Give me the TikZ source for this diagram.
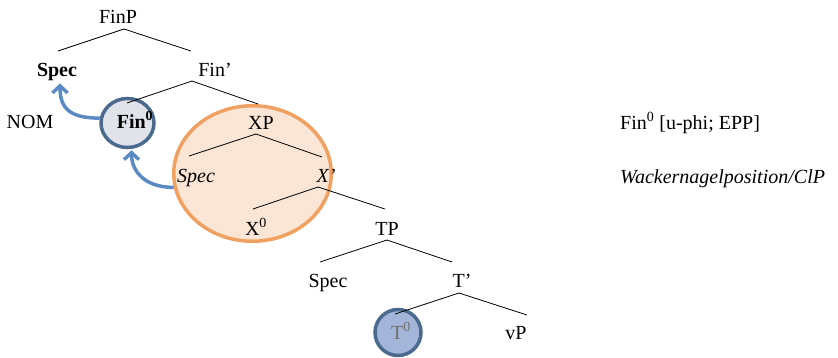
\documentclass[tikz,border=0pt]{standalone}
\usepackage{fontspec}
\setmainfont{Liberation Serif}
\usetikzlibrary{arrows.meta,shapes.geometric}
\definecolor{moveblue}{HTML}{5B8AC4}
\definecolor{finfill}{HTML}{E1E3EA}
\definecolor{headrim}{HTML}{4B6A8E}
\definecolor{clfill}{HTML}{FBE5D5}
\definecolor{clrim}{HTML}{F0A060}
\definecolor{tfill}{HTML}{A3B5D9}
\definecolor{tgray}{HTML}{707070}

\begin{document}
\begin{tikzpicture}[
        x=1pt, y=-1pt,
        lbl/.style={anchor=base, inner sep=0pt, font=\fontsize{20}{24}\selectfont},
        branch/.style={draw=black, line width=0.8pt},
        headring/.style={draw=headrim, line width=3.5pt, inner sep=0pt},
        movearrow/.style={-{Straight Barb[length=7pt, width=15pt]}, line width=3.5pt, draw=moveblue}
      ]
        \useasboundingbox (0,0) rectangle (838,357);

        % highlighted heads and the clitic domain
        \node[headring, ellipse, fill=finfill, minimum width=53pt, minimum height=49pt] (fincirc) at (127.5,123) {};
        \node[ellipse, draw=clrim, fill=clfill, line width=3.5pt, inner sep=0pt,
              minimum width=157.5pt, minimum height=135.5pt] (xpcirc) at (252.5,173.5) {};
        \node[headring, circle, fill=tfill, minimum size=46pt] (tcirc) at (398,332.5) {};

        % tree labels
        \node[lbl] (finp) at (118,23) {FinP};
        \node[lbl] (specfin) at (57,76) {\textbf{Spec}};
        \node[lbl] (finbar) at (215,76) {Fin’};
        \node[lbl] (nom) at (30,128) {NOM};
        \node[lbl] (fin) at (135,128) {\textbf{Fin\textsuperscript{0}}};
        \node[lbl] (xp) at (261,129) {XP};
        \node[lbl] (specx) at (196,182) {\textit{Spec}};
        \node[lbl] (xbar) at (326,182) {\textit{X’}};
        \node[lbl] (xzero) at (256,235) {X\textsuperscript{0}};
        \node[lbl] (tp) at (387,235) {TP};
        \node[lbl] (spect) at (328,287) {Spec};
        \node[lbl] (tbar) at (462,287) {T’};
        \node[lbl, text=tgray] (tzero) at (401,339) {T\textsuperscript{0}};
        \node[lbl] (vp) at (516,339) {vP};

        % side notes
        \node[lbl, anchor=base west] (finfeat) at (620,129) {Fin\textsuperscript{0} [u-phi; EPP]};
        \node[lbl, anchor=base west] (wackpos) at (620,183) {\textit{Wackernagelposition/ClP}};

        % branches
        \draw[branch] ([shift={(6,6)}]finp.base) -- ([shift={(1,-25)}]specfin.base);
        \draw[branch] ([shift={(6,6)}]finp.base) -- ([shift={(-24,-25)}]finbar.base);
        \draw[branch] ([shift={(-23,5)}]finbar.base) -- ([shift={(-8,-25)}]fin.base);
        \draw[branch] ([shift={(-23,5)}]finbar.base) -- ([shift={(-3,-25)}]xp.base);
        \draw[branch] ([shift={(-5,5)}]xp.base) -- ([shift={(-7,-26)}]specx.base);
        \draw[branch] ([shift={(-5,5)}]xp.base) -- ([shift={(-4,-25)}]xbar.base);
        \draw[branch] ([shift={(-8,5)}]xbar.base) -- ([shift={(-3,-26)}]xzero.base);
        \draw[branch] ([shift={(-8,5)}]xbar.base) -- ([shift={(-2,-26)}]tp.base);
        \draw[branch] ([shift={(0,5)}]tp.base) -- ([shift={(-8,-25)}]spect.base);
        \draw[branch] ([shift={(0,5)}]tp.base) -- ([shift={(-10,-25)}]tbar.base);
        \draw[branch] ([shift={(-3,6)}]tbar.base) -- ([shift={(-6,-25)}]tzero.base);
        \draw[branch] ([shift={(-3,6)}]tbar.base) -- ([shift={(11,-24)}]vp.base);

        % movement
        \draw[movearrow] (fincirc.170) .. controls +(-30,0) and +(0,25) .. ([shift={(3,3)}]specfin.south);
        \draw[movearrow] (xpcirc.190) .. controls +(-30,0) and +(0,20) .. ([shift={(4,1)}]fincirc.south);
      \end{tikzpicture}
\end{document}
